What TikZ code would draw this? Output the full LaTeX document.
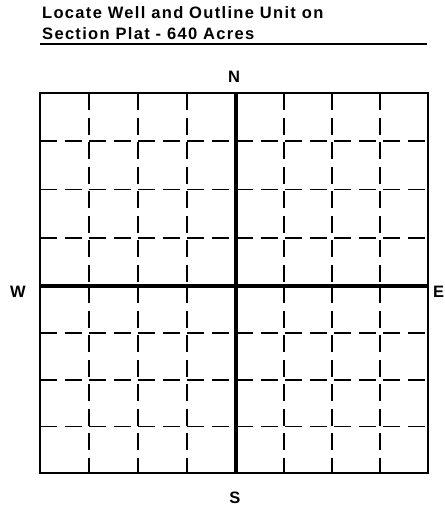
\documentclass[tikz,border=0pt]{standalone}
\usepackage{fontspec}
\setmainfont{Liberation Sans}
\newfontfamily\platfont[LetterSpace=8]{Liberation Sans}

\tikzset{
    label text/.style={font=\platfont\bfseries\fontsize{16.5}{19}\selectfont, inner sep=0pt},
    quarter line/.style={line width=1.8pt, dash pattern=on 17pt off 7.5pt},
}

\begin{document}
\begin{tikzpicture}[x=1pt,y=-1pt,line cap=butt]
    \useasboundingbox[fill=white] (0,0) rectangle (445,507);
    % heading
    \node[label text,anchor=base west] (title1) at (42,18.5) {Locate Well and Outline Unit on};
    \node[label text,anchor=base west] (title2) at (42,39.5) {Section Plat - 640 Acres};
    \draw[line width=2pt] (40,44) -- (427,44);
    % quarter-quarter lines
    \foreach \x in {89,138,187} {
        \draw[quarter line] (\x,93) -- (\x,286);
        \draw[quarter line] (\x,286) -- (\x,473);
    }
    \foreach \x in {284,332,380} {
        \draw[quarter line] (\x,93) -- (\x,286);
        \draw[quarter line] (\x,286) -- (\x,473);
    }
    \foreach \y in {141,189.5,238,333,380,426.5} {
        \draw[quarter line] (40,\y) -- (236,\y);
        \draw[quarter line] (236,\y) -- (428,\y);
    }
    % section and quarter lines
    \draw[line width=2.2pt] (40,93) rectangle (428,473);
    \draw[line width=4.2pt] (236,93) -- (236,473);
    \draw[line width=4.2pt] (40,286) -- (428,286);
    % compass
    \node[label text,anchor=base] (north) at (234,82) {N};
    \node[label text,anchor=base] (south) at (235,503) {S};
    \node[label text,anchor=base] (west) at (18,297) {W};
    \node[label text,anchor=base west] (east) at (433,297) {E};
\end{tikzpicture}
\end{document}
